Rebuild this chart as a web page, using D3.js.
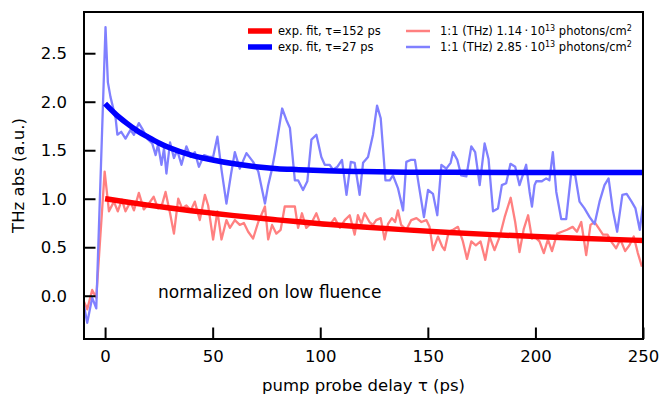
<!DOCTYPE html>
<html>
<head>
<meta charset="utf-8">
<script src="https://cdn.jsdelivr.net/npm/d3@7"></script>
<style>
  html, body { margin: 0; padding: 0; background: #fff; }
  svg { display: block; font-family: "DejaVu Sans", sans-serif; }
</style>
</head>
<body>
<svg id="chart" width="662" height="402"></svg>
<script>
// ---- data ----
const xTicks = [0, 50, 100, 150, 200, 250];
const yTicks = [0.0, 0.5, 1.0, 1.5, 2.0, 2.5];

const blueTime = [-10,-8.3,-6,-4.1,0.2,1.3,2.5,4.9,5.7,7.5,9.5,11.8,13.4,15.7,17.3,19.6,21.9,23.5,24.6,26.2,27.4,28.5,30.2,32,33.5,35.5,37.8,39.8,41.7,43.6,46,48.7,50.2,52.2,54.1,56.4,58.5,60.3,62.6,65.7,68.8,71.2,74.3,75.8,77.5,79,82.3,84.3,85.9,88.2,89.7,92,94,95.9,98.2,100.5,102.1,104.4,105.9,108,110.1,112.2,114.2,116,118.3,119.9,122.2,124.5,126.4,128.1,130.3,132.3,133.8,136.1,138.5,140,142,144,145.8,148.2,150.1,152.4,154.4,156.3,158.6,160.6,161.7,163.7,165.5,167.9,170.2,172,174.1,176.4,178.2,180.3,182.6,184.4,186.4,188.4,190.6,192.6,195.7,197.3,198.4,199.6,200.4,203,205,206.5,208.1,209.7,212,214.3,216.6,218.5,220.5,222.8,225.2,227.5,229.8,232.1,234,236,238,240.4,242.4,244.7,246.5,248.5,250];
const blueValues = [-0.08,-0.28,-0.02,-0.13,2.77,2.2,2.05,1.83,1.66,1.69,1.62,1.71,1.66,1.78,1.72,1.62,1.57,1.45,1.56,1.35,1.52,1.26,1.58,1.42,1.50,1.35,1.54,1.43,1.48,1.33,1.45,1.43,1.43,1.64,1.30,0.95,1.25,1.48,1.31,1.47,1.38,1.28,0.95,1.14,1.30,1.48,1.93,1.81,1.73,1.19,1.19,1.09,1.18,1.61,1.66,1.43,1.35,1.35,1.30,1.33,1.40,1.04,1.38,1.37,1.04,1.37,1.43,1.66,1.96,1.83,1.19,1.19,1.24,1.11,0.88,1.38,1.40,1.40,1.14,0.81,1.09,1.05,0.83,1.35,1.31,1.37,1.48,1.40,1.24,1.23,1.54,1.48,1.14,1.57,1.41,0.87,0.90,1.14,1.16,1.36,1.33,1.14,1.35,1.07,0.92,1.14,1.18,1.18,1.21,1.19,1.48,1.07,0.79,0.79,1.26,1.24,0.97,0.90,0.81,0.74,0.97,1.14,1.21,0.88,0.66,1.04,1.05,0.97,0.90,0.68,0.93];

const redTime = [-10,-8.3,-6,-4.1,-0.2,1.8,4.1,5.9,7.8,9.5,11.8,13.4,15.7,18,20.3,22.6,24.6,26.6,28.1,30.2,32,34,35.8,37.8,39.8,41.7,44,46.4,47.9,50.2,52.2,54.1,56.4,58,60.3,62.6,64.5,66.5,68.8,71.2,74.3,75.8,77.6,79.6,81.6,83.5,85.8,88.2,89.7,91.5,93.5,95.9,98.2,100.2,102,104.4,106.7,109.1,111.4,113.7,116,117.5,119.1,120.6,122.9,124.5,126,128.1,129.9,131.5,133.3,134.8,136.1,137.6,140,142.3,144.7,147,149.3,150.8,152.4,154.7,156.6,157.8,159.7,161.7,164,166.3,168.2,170.2,172.3,174.5,176.7,178.7,181,183.4,185.7,188.5,190.6,192.6,194.6,196.6,198.4,199.6,201.9,203.9,205.8,207.7,210.1,212.3,214.7,217.3,219.3,221.3,223.6,225.6,227.5,229,231.4,233.5,235.5,237.5,239.5,241.7,243.7,245.7,247.6,249.5];
const redValues = [-0.05,-0.14,0.06,-0.02,1.28,0.87,0.97,0.87,0.99,0.87,0.97,0.88,1.06,0.89,0.95,1.02,0.90,0.95,1.07,0.85,0.64,1.00,0.90,0.93,0.88,0.97,0.78,1.04,0.93,0.58,0.87,0.58,0.78,0.70,0.78,0.73,0.75,0.66,0.59,0.76,0.92,0.58,0.73,0.64,0.68,0.92,0.92,0.92,0.70,0.85,0.70,0.75,0.85,0.73,0.72,0.73,0.80,0.70,0.78,0.83,0.63,0.83,0.74,0.85,0.76,0.73,0.78,0.80,0.58,0.74,0.80,0.76,0.88,0.73,0.68,0.78,0.80,0.76,0.78,0.71,0.47,0.61,0.51,0.47,0.66,0.68,0.71,0.56,0.38,0.56,0.52,0.56,0.37,0.61,0.47,0.61,0.81,1.01,0.76,0.45,0.69,0.83,0.59,0.61,0.56,0.44,0.58,0.46,0.64,0.66,0.68,0.71,0.66,0.76,0.42,0.73,0.76,0.71,0.63,0.63,0.55,0.49,0.58,0.46,0.52,0.61,0.44,0.30];

const redFitTime = [0,10,20,30,40,50,60,70,80,90,100,120,140,160,180,200,220,250];
const redFitValues = [1.000,0.966,0.934,0.905,0.877,0.851,0.826,0.803,0.782,0.762,0.743,0.709,0.679,0.653,0.630,0.610,0.592,0.570];
const blueFitTime = [0,5,10,15,20,25,30,40,50,60,70,80,90,100,120,140,160,200,250];
const blueFitValues = [1.98,1.87,1.78,1.70,1.635,1.575,1.525,1.45,1.40,1.36,1.33,1.31,1.30,1.29,1.28,1.274,1.272,1.27,1.27];

const legendLabels = ["exp. fit, τ=152 ps", "exp. fit, τ=27 ps"];
const dataLegend = [{pre: "1:1 (THz) 1.14\u2009·\u200910", exp: "13", post: " photons/cm", exp2: "2"},
                    {pre: "1:1 (THz) 2.85\u2009·\u200910", exp: "13", post: " photons/cm", exp2: "2"}];

// ---- layout ----
const svg = d3.select("#chart");
const L = 84, R = 643, T = 12, B = 339;
const x = d3.scaleLinear().domain([-9.8, 250]).range([L, R]);
const y = d3.scaleLinear().domain([-0.446, 2.925]).range([B, T]);

svg.append("clipPath").attr("id", "clip")
  .append("rect").attr("x", L).attr("y", T).attr("width", R - L).attr("height", B - T);

const lightRed = "#ff8080", lightBlue = "#8080ff";
const line = d3.line().x(d => x(d[0])).y(d => y(d[1]));
const smooth = d3.line().x(d => x(d[0])).y(d => y(d[1])).curve(d3.curveMonotoneX);
const zip = (a, b) => a.map((t, i) => [t, b[i]]);

const plot = svg.append("g").attr("clip-path", "url(#clip)");
plot.append("path").attr("d", line(zip(redTime, redValues)))
  .attr("fill", "none").attr("stroke", lightRed).attr("stroke-width", 2.3).attr("stroke-linejoin", "round");
plot.append("path").attr("d", line(zip(blueTime, blueValues)))
  .attr("fill", "none").attr("stroke", lightBlue).attr("stroke-width", 2.3).attr("stroke-linejoin", "round");
plot.append("path").attr("d", smooth(zip(redFitTime, redFitValues)))
  .attr("fill", "none").attr("stroke", "#ff0000").attr("stroke-width", 5.5);
plot.append("path").attr("d", smooth(zip(blueFitTime, blueFitValues)))
  .attr("fill", "none").attr("stroke", "#0000ff").attr("stroke-width", 5.5);

// axes
const xAxis = d3.axisBottom(x).tickValues(xTicks).tickFormat(d3.format("d"))
  .tickSizeInner(-11.5).tickSizeOuter(0).tickPadding(11);
const gx = svg.append("g").attr("transform", `translate(0,${B})`).call(xAxis);
const yAxis = d3.axisLeft(y).tickValues(yTicks).tickFormat(d3.format(".1f"))
  .tickSizeInner(-11.5).tickSizeOuter(0).tickPadding(17);
const gy = svg.append("g").attr("transform", `translate(${L},0)`).call(yAxis);
[gx, gy].forEach(g => {
  g.select(".domain").remove();
  g.selectAll(".tick line").attr("stroke", "#000").attr("stroke-width", 2);
  g.selectAll(".tick text").attr("fill", "#000").style("font-size", "16.5px").style("font-family", "DejaVu Sans");
});

// frame
svg.append("rect").attr("x", L).attr("y", T).attr("width", R - L).attr("height", B - T)
  .attr("fill", "none").attr("stroke", "#000").attr("stroke-width", 2);

// axis labels
svg.append("text").attr("x", (L + R) / 2).attr("y", 391).attr("text-anchor", "middle")
  .style("font-size", "16.5px").text("pump probe delay τ (ps)");
svg.append("text").attr("transform", `translate(24,${(T + B) / 2}) rotate(-90)`).attr("text-anchor", "middle")
  .style("font-size", "16.5px").text("THz abs (a.u.)");

// annotation
svg.append("text").attr("x", 158).attr("y", 298).style("font-size", "17px").text("normalized on low fluence");

// legend
const lg = svg.append("g").style("font-size", "11.5px");
const fitColors = ["#ff0000", "#0000ff"], dataColors = [lightRed, lightBlue];
const rowsY = [31, 47];
legendLabels.forEach((lab, i) => {
  lg.append("line").attr("x1", 248).attr("x2", 272).attr("y1", rowsY[i]).attr("y2", rowsY[i])
    .attr("stroke", fitColors[i]).attr("stroke-width", 5.5);
  lg.append("text").attr("x", 278).attr("y", rowsY[i] + 4).text(lab);
});
dataLegend.forEach((d, i) => {
  lg.append("line").attr("x1", 406).attr("x2", 430).attr("y1", rowsY[i]).attr("y2", rowsY[i])
    .attr("stroke", dataColors[i]).attr("stroke-width", 2.5);
  const t = lg.append("text").attr("x", 440).attr("y", rowsY[i] + 4);
  t.append("tspan").text(d.pre);
  t.append("tspan").attr("dy", -4.5).style("font-size", "8px").text(d.exp);
  t.append("tspan").attr("dy", 4.5).text(d.post);
  t.append("tspan").attr("dy", -4.5).style("font-size", "8px").text(d.exp2);
});
</script>
</body>
</html>
